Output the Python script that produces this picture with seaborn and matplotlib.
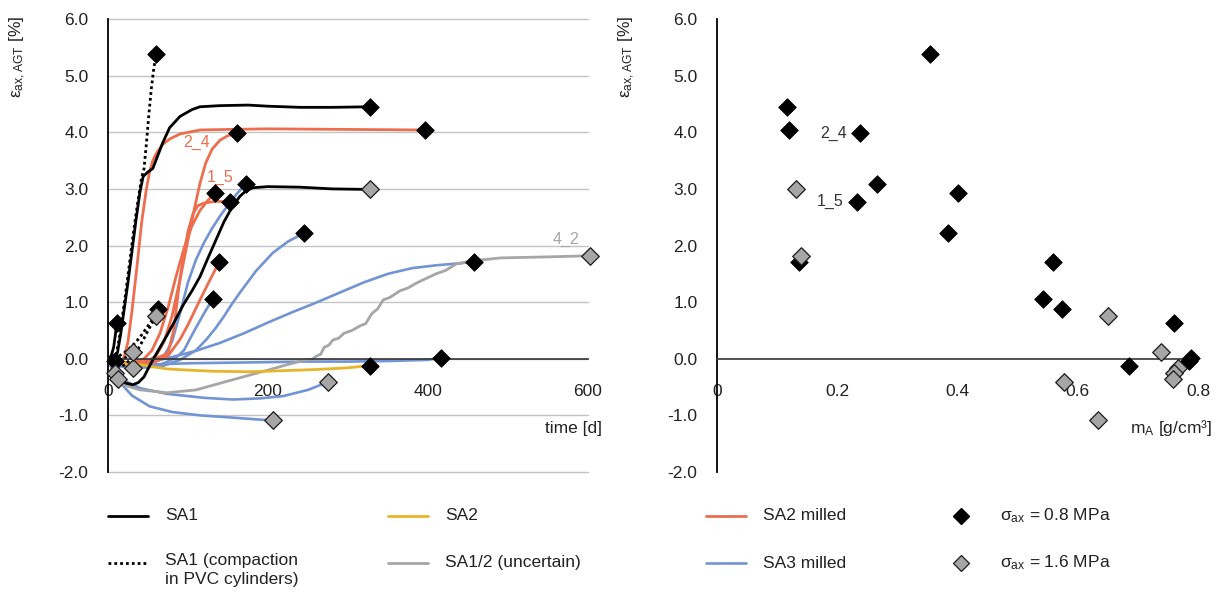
import matplotlib
matplotlib.use("Agg")
import matplotlib.pyplot as plt
from matplotlib.lines import Line2D
import seaborn as sns
import pandas as pd

# ---------------- axial strain over time, one list per specimen ----------------
# SA1
sa1_days = [
    [0, 5, 9, 12, 16, 20, 25, 30, 35, 40, 44, 50, 56, 62, 68, 77, 90, 105, 115, 140, 175, 200, 240, 280, 327],
    [0, 5, 10, 15, 22, 31, 38, 45, 50, 56, 65, 74, 84, 94, 105, 115, 125, 135, 145, 156, 165, 172, 181, 200, 240, 280, 327],
    [0, 4, 7, 9, 11],
    [0, 4, 9],
]
sa1_eps = [
    [0, -0.02, 0.0, 0.12, 0.45, 0.85, 1.35, 1.9, 2.45, 2.95, 3.22, 3.3, 3.36, 3.58, 3.8, 4.08, 4.28, 4.4, 4.45, 4.47, 4.48, 4.46, 4.44, 4.44, 4.45],
    [0, -0.12, -0.25, -0.37, -0.43, -0.46, -0.42, -0.32, -0.18, -0.02, 0.2, 0.42, 0.68, 0.95, 1.2, 1.45, 1.78, 2.1, 2.42, 2.7, 2.87, 2.96, 3.02, 3.04, 3.03, 3.0, 2.99],
    [0, 0.05, 0.2, 0.4, 0.64],
    [0, -0.03, -0.04],
]
sa1_load = [0.8, 1.6, 0.8, 0.8]
sa1_mA = [0.117, 0.132, 0.76, 0.785]

# SA1, compaction in PVC cylinders
pvc_days = [
    [0, 6, 10, 14, 18, 22, 27, 32, 37, 42, 45, 48, 51, 54, 57, 60],
    [0, 8, 15, 22, 30, 38, 45, 52, 60],
    [0, 10, 20, 30, 40, 50, 57, 63],
    [0, 10, 20, 31],
]
pvc_eps = [
    [0, -0.03, 0.05, 0.35, 0.75, 1.15, 1.7, 2.25, 2.75, 3.2, 3.35, 3.8, 4.3, 4.75, 5.1, 5.38],
    [0, -0.1, -0.15, -0.1, 0.02, 0.18, 0.36, 0.55, 0.75],
    [0, 0.02, 0.1, 0.22, 0.38, 0.58, 0.72, 0.87],
    [0, -0.05, 0.0, 0.12],
]
pvc_load = [0.8, 1.6, 0.8, 1.6]
pvc_mA = [0.355, 0.65, 0.573, 0.738]

# SA2
sa2_days = [[0, 5, 15, 25, 40, 55, 74, 100, 130, 177, 220, 260, 300, 327]]
sa2_eps = [[0, -0.04, -0.07, -0.09, -0.1, -0.14, -0.18, -0.2, -0.22, -0.23, -0.21, -0.19, -0.16, -0.12]]
sa2_load = [0.8]
sa2_mA = [0.685]

# SA2 milled
sa2m_days = [
    [0, 8, 15, 20, 25, 30, 36, 42, 48, 52, 56, 61, 68, 77, 90, 115, 150, 200, 300, 396],
    [0, 15, 30, 45, 60, 70, 80, 90, 100, 108, 115, 122, 130, 140, 150, 161],
    [0, 15, 30, 45, 60, 75, 82, 88, 94, 100, 106, 112, 120, 135, 152],
    [0, 15, 30, 45, 55, 65, 75, 85, 95, 105, 115, 125, 134],
    [0, 15, 30, 45, 60, 75, 90, 100, 115, 127, 139],
]
sa2m_eps = [
    [0, -0.05, -0.05, 0.02, 0.3, 0.85, 1.6, 2.4, 3.0, 3.3, 3.5, 3.64, 3.78, 3.88, 3.97, 4.04, 4.05, 4.06, 4.05, 4.04],
    [0, -0.08, -0.12, -0.08, 0.05, 0.3, 0.75, 1.4, 2.1, 2.65, 3.1, 3.45, 3.7, 3.86, 3.94, 3.98],
    [0, -0.06, -0.1, -0.05, 0.0, 0.1, 0.5, 1.2, 1.8, 2.25, 2.55, 2.7, 2.75, 2.78, 2.77],
    [0, -0.05, -0.08, 0.0, 0.15, 0.45, 0.9, 1.45, 1.95, 2.35, 2.62, 2.8, 2.93],
    [0, -0.05, -0.1, -0.1, -0.05, 0.05, 0.34, 0.6, 1.04, 1.38, 1.71],
]
sa2m_load = [0.8, 0.8, 0.8, 0.8, 0.8]
sa2m_mA = [0.12, 0.238, 0.233, 0.40, 0.559]
sa2m_tag = ["", "2_4", "1_5", "", ""]

# SA3 milled
sa3m_days = [
    [0, 15, 30, 50, 70, 80, 90, 100, 110, 120, 130, 140, 152, 162, 172],
    [0, 15, 30, 50, 70, 85, 95, 102, 110, 120, 131],
    [0, 15, 30, 50, 70, 90, 110, 123, 135, 145, 155, 165, 185, 206, 225, 245],
    [0, 10, 25, 50, 80, 110, 140, 170, 200, 230, 260, 290, 320, 350, 380, 410, 435, 457],
    [0, 10, 30, 60, 100, 150, 200, 250, 300, 350, 400, 416],
    [0, 10, 20, 40, 74, 120, 156, 190, 219, 250, 275],
    [0, 5, 15, 30, 52, 80, 115, 156, 185, 206],
    [0, 10, 20, 31],
    [0, 4, 9],
    [0, 5, 9, 13],
]
sa3m_eps = [
    [0, -0.08, -0.12, -0.1, 0.05, 0.3, 0.8, 1.35, 1.75, 2.05, 2.3, 2.52, 2.75, 2.93, 3.08],
    [0, -0.1, -0.15, -0.15, -0.08, 0.02, 0.15, 0.34, 0.55, 0.8, 1.06],
    [0, -0.1, -0.15, -0.15, -0.12, -0.02, 0.15, 0.34, 0.55, 0.75, 0.97, 1.17, 1.55, 1.87, 2.07, 2.22],
    [0, -0.12, -0.15, -0.07, 0.03, 0.14, 0.28, 0.45, 0.64, 0.82, 0.99, 1.17, 1.35, 1.5, 1.6, 1.65, 1.68, 1.71],
    [0, -0.08, -0.1, -0.1, -0.08, -0.07, -0.06, -0.05, -0.05, -0.04, -0.02, 0.02],
    [0, -0.25, -0.38, -0.52, -0.62, -0.69, -0.72, -0.7, -0.66, -0.55, -0.41],
    [0, -0.2, -0.42, -0.65, -0.84, -0.94, -1.0, -1.04, -1.07, -1.09],
    [0, -0.1, -0.15, -0.17],
    [0, -0.12, -0.25],
    [0, -0.15, -0.27, -0.35],
]
sa3m_load = [0.8, 0.8, 0.8, 0.8, 0.8, 1.6, 1.6, 1.6, 1.6, 1.6]
sa3m_mA = [0.266, 0.543, 0.385, 0.137, 0.789, 0.577, 0.633, 0.767, 0.76, 0.758]

# SA1/2 (uncertain) - logged in coarse increments, hence the steps
sa12_days = [[0, 10, 19, 40, 74, 110, 156, 200, 225, 245, 255, 261, 266, 270, 276, 281, 288, 295,
              305, 315, 322, 330, 337, 344, 352, 365, 375, 386, 398, 410, 422, 436, 446, 456,
              470, 490, 520, 552, 580, 602]]
sa12_eps = [[0, -0.3, -0.46, -0.55, -0.6, -0.55, -0.37, -0.2, -0.1, -0.03, -0.01, 0.05, 0.08, 0.2,
             0.24, 0.33, 0.36, 0.45, 0.5, 0.58, 0.62, 0.8, 0.88, 1.04, 1.08, 1.2, 1.25, 1.34, 1.42,
             1.5, 1.56, 1.68, 1.7, 1.74, 1.75, 1.78, 1.79, 1.8, 1.81, 1.82]]
sa12_load = [1.6]
sa12_mA = [0.14]
sa12_tag = ["4_2"]

# ---------------- assemble long tables ----------------
groups = [
    ("SA3 milled", sa3m_days, sa3m_eps, sa3m_load, sa3m_mA, None),
    ("SA1/2 (uncertain)", sa12_days, sa12_eps, sa12_load, sa12_mA, sa12_tag),
    ("SA2 milled", sa2m_days, sa2m_eps, sa2m_load, sa2m_mA, sa2m_tag),
    ("SA2", sa2_days, sa2_eps, sa2_load, sa2_mA, None),
    ("SA1", sa1_days, sa1_eps, sa1_load, sa1_mA, None),
    ("SA1 (compaction\nin PVC cylinders)", pvc_days, pvc_eps, pvc_load, pvc_mA, None),
]
rows, ends = [], []
for name, days, eps, load, mA, tags in groups:
    for i, (d, e) in enumerate(zip(days, eps)):
        for dd, ee in zip(d, e):
            rows.append(dict(group=name, spec=f"{name}-{i}", day=dd, eps=ee))
        ends.append(dict(group=name, day=d[-1], eps=e[-1], load=load[i], mA=mA[i],
                         tag=(tags[i] if tags else "")))
curves = pd.DataFrame(rows)
ends = pd.DataFrame(ends)

style = {
    "SA1": dict(color="#000000", lw=2.0, ls="-"),
    "SA1 (compaction\nin PVC cylinders)": dict(color="#000000", lw=2.0, ls=(0, (1, 1.1))),
    "SA2": dict(color="#E8B52A", lw=2.0, ls="-"),
    "SA1/2 (uncertain)": dict(color="#A6A6A6", lw=2.0, ls="-"),
    "SA2 milled": dict(color="#EC6E4E", lw=2.0, ls="-"),
    "SA3 milled": dict(color="#7294D2", lw=1.9, ls="-"),
}
GRID = "#C4C4C4"
DIAMOND_GREY = "#A6A6A6"

# ---------------- figure ----------------
sns.set_style("white")
plt.rcParams["font.family"] = ["Liberation Sans", "DejaVu Sans"]
plt.rcParams["mathtext.fontset"] = "custom"
plt.rcParams["mathtext.rm"] = "Liberation Sans"
plt.rcParams["mathtext.it"] = "Liberation Sans"
plt.rcParams["mathtext.default"] = "regular"
plt.rcParams["axes.unicode_minus"] = False

W, H = 1220, 598
fig = plt.figure(figsize=(W / 100, H / 100), dpi=100)


def px_box(x0, x1, ytop, ybot):
    return [x0 / W, 1 - ybot / H, (x1 - x0) / W, (ybot - ytop) / H]


axL = fig.add_axes(px_box(108, 588, 19, 472))
axR = fig.add_axes(px_box(717, 1198, 19, 472))

FS = 12.5
for ax in (axL, axR):
    ax.set_ylim(-2, 6)
    ax.set_yticks(range(-2, 7))
    ax.set_yticklabels([f"{v:.1f}" for v in range(-2, 7)])
    for s in ("top", "right"):
        ax.spines[s].set_visible(False)
    ax.spines["left"].set_color("#000000")
    ax.spines["left"].set_linewidth(1.3)
    ax.spines["bottom"].set_position(("data", 0))
    ax.spines["bottom"].set_color("#333333")
    ax.spines["bottom"].set_linewidth(1.2)
    ax.tick_params(axis="y", direction="out", length=7.5, width=1.2, pad=6.5,
                   labelsize=FS, colors="#000000", labelcolor="#222222")
    ax.tick_params(axis="x", direction="out", length=6.5, width=1.2, pad=11.5,
                   labelsize=FS, colors="#333333", labelcolor="#222222")
    ax.set_xlabel("")
    ax.set_ylabel("")
    ax.patch.set_alpha(0)

# left: time curves
axL.set_xlim(0, 600)
axL.set_xticks([0, 200, 400, 600])
axL.set_xticklabels(["0", "200", "400", "600"])
axL.yaxis.grid(True, color=GRID, lw=1.0)
axL.set_axisbelow(True)
for gl in axL.get_ygridlines():
    gl.set_clip_on(False)

for name, *_ in groups:
    st = style[name]
    sub = curves[curves.group == name]
    sns.lineplot(data=sub, x="day", y="eps", units="spec", estimator=None, sort=False,
                 color=st["color"], lw=st["lw"], linestyle=st["ls"], ax=axL, legend=False)

blk = ends[ends.load == 0.8]
gry = ends[ends.load == 1.6]
for ax, xcol in ((axL, "day"), (axR, "mA")):
    sns.scatterplot(data=blk, x=xcol, y="eps", marker="D", s=80, color="#000000",
                    edgecolor="#000000", linewidth=0.6, ax=ax, zorder=5, clip_on=False, legend=False)
    sns.scatterplot(data=gry, x=xcol, y="eps", marker="D", s=80, color=DIAMOND_GREY,
                    edgecolor="#1a1a1a", linewidth=0.9, ax=ax, zorder=6, clip_on=False, legend=False)
    ax.set_xlabel("")
    ax.set_ylabel("")

# specimen tags
tag_offsets_left = {"2_4": (-50, -0.16), "1_5": (-12, 0.43), "4_2": (-30, 0.28)}
for _, r in ends[ends.tag != ""].iterrows():
    dx, dy = tag_offsets_left[r.tag]
    axL.text(r.day + dx, r.eps + dy, r.tag, color=style[r.group]["color"], fontsize=11.5,
             ha="center", va="center")
    if r.group == "SA2 milled":
        axR.text(r.mA - 0.022, r.eps, r.tag, color="#333333", fontsize=11.5,
                 ha="right", va="center")

# right: strain vs additive density
axR.set_xlim(0, 0.8)
axR.set_xticks([0, 0.2, 0.4, 0.6, 0.8])
axR.set_xticklabels(["0", "0.2", "0.4", "0.6", "0.8"])

# axis titles
ylab = r"$ε_{ax,AGT}$ [%]"
fig.text(18 / W, 1 - 57 / H, ylab, rotation=90, ha="center", va="center", fontsize=12.5, color="#222222")
fig.text(627 / W, 1 - 57 / H, ylab, rotation=90, ha="center", va="center", fontsize=12.5, color="#222222")
fig.text(602 / W, 1 - 428 / H, "time [d]", ha="right", va="center", fontsize=FS, color="#222222")
fig.text(1212 / W, 1 - 428 / H, r"$m_A$ [g/cm³]", ha="right", va="center", fontsize=FS, color="#222222")

# legend


def legend_line(x0, x1, y, name):
    st = style[name]
    fig.add_artist(Line2D([x0 / W, x1 / W], [1 - y / H] * 2, transform=fig.transFigure,
                          color=st["color"], lw=st["lw"], linestyle=st["ls"]))


def legend_text(x, y, txt, **kw):
    fig.text(x / W, 1 - y / H, txt, fontsize=FS, color="#222222", va="center", **kw)


R1, R2 = 516, 563
legend_line(108, 148, R1, "SA1")
legend_text(165, R1, "SA1")
legend_line(108, 148, R2, "SA1 (compaction\nin PVC cylinders)")
fig.text(165 / W, 1 - (R2 - 10) / H, "SA1 (compaction\nin PVC cylinders)", fontsize=FS,
         color="#222222", va="top", linespacing=1.3)
legend_line(388, 428, R1, "SA2")
legend_text(445, R1, "SA2")
legend_line(388, 428, R2, "SA1/2 (uncertain)")
legend_text(445, R2, "SA1/2 (uncertain)")
legend_line(706, 746, R1, "SA2 milled")
legend_text(763, R1, "SA2 milled")
legend_line(706, 746, R2, "SA3 milled")
legend_text(763, R2, "SA3 milled")
fig.add_artist(Line2D([961 / W], [1 - R1 / H], transform=fig.transFigure, marker="D", ms=8.5,
                      color="#000000", ls="none"))
fig.add_artist(Line2D([961 / W], [1 - R2 / H], transform=fig.transFigure, marker="D", ms=8.5,
                      markerfacecolor=DIAMOND_GREY, markeredgecolor="#1a1a1a", mew=0.9, ls="none"))
legend_text(1000, R1, r"$σ_{ax}$ = 0.8 MPa")
legend_text(1000, R2, r"$σ_{ax}$ = 1.6 MPa")

fig.savefig("out.png", dpi=100)
